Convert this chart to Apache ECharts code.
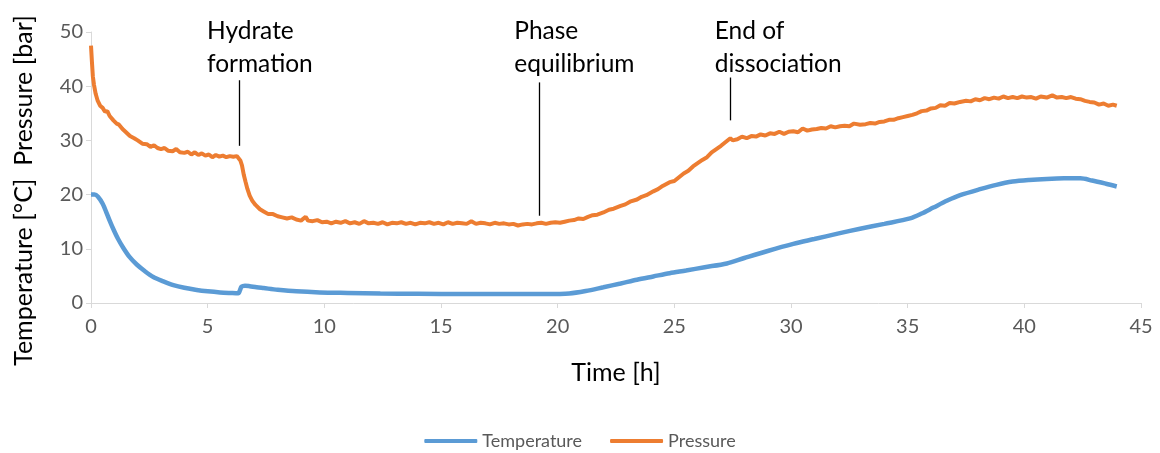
<!DOCTYPE html>
<html>
<head>
<meta charset="utf-8">
<script src="https://cdn.jsdelivr.net/npm/echarts@6/dist/echarts.min.js"></script>
<style>html,body{margin:0;padding:0;background:#fff}#c{width:1160px;height:453px}</style>
</head>
<body>
<div id="c"></div>
<script>
const xTicks = { min: 0, max: 45, interval: 5 };
const yTicks = { min: 0, max: 50, interval: 10 };
const seriesNames = ['Temperature', 'Pressure'];

const temperature = [[0,20.0],[0.15,20.0],[0.3,19.6],[0.5,18.3],[0.67,16.6],[0.8,15.2],[0.96,13.6],[1.15,11.9],[1.38,10.2],[1.65,8.5],[1.96,7.1],[2.3,5.9],[2.67,4.8],[3.1,4.0],[3.53,3.3],[4.0,2.8],[4.53,2.4],[5.0,2.15],[5.53,1.95],[6.0,1.85],[6.31,1.8],[6.38,2.3],[6.45,3.0],[6.6,3.2],[6.8,3.1],[7.1,2.9],[7.4,2.75],[8.0,2.45],[8.8,2.15],[9.8,1.95],[11.0,1.85],[12.4,1.75],[14,1.7],[16,1.65],[18,1.65],[19.5,1.65],[20.5,1.75],[21.2,2.2],[21.96,2.9],[22.7,3.6],[23.4,4.3],[24.1,4.9],[24.8,5.5],[25.5,6.0],[26.3,6.6],[27.25,7.3],[28,8.3],[29,9.6],[30.1,10.9],[31.0,11.8],[32,12.8],[32.96,13.7],[34,14.6],[35.1,15.6],[35.6,16.5],[36.1,17.6],[36.7,18.9],[37.25,19.9],[38.1,21.0],[38.8,21.8],[39.5,22.4],[40.2,22.7],[40.96,22.9],[41.7,23.0],[42.4,23.0],[42.9,22.6],[43.5,22.0],[43.96,21.5]];

const pressure = [[0,47.5],[0.04,44.5],[0.08,41.8],[0.13,40.2],[0.2,38.6],[0.28,37.4],[0.39,36.4],[0.5,36.0],[0.6,35.3],[0.7,35.4],[0.8,34.5],[0.96,33.7],[1.1,33.1],[1.2,32.9],[1.35,32.1],[1.5,31.5],[1.67,30.8],[1.85,30.4],[2.0,30.0],[2.2,29.4],[2.39,29.3],[2.55,28.8],[2.7,29.1],[2.85,28.6],[3.0,28.4],[3.15,28.6],[3.3,28.1],[3.5,28.0],[3.65,28.4],[3.81,27.8],[4.0,27.7],[4.15,27.9],[4.3,27.4],[4.45,27.8],[4.6,27.3],[4.75,27.6],[4.9,27.2],[5.05,27.4],[5.2,26.9],[5.35,27.3],[5.5,27.0],[5.65,27.2],[5.8,26.9],[5.95,27.1],[6.1,27.0],[6.25,27.1],[6.33,27.0],[6.4,26.3],[6.47,25.4],[6.55,23.6],[6.62,22.4],[6.7,21.1],[6.8,19.8],[6.92,18.8],[7.05,18.1],[7.24,17.3],[7.4,16.9],[7.6,16.4],[7.8,16.4],[8.0,16.0],[8.2,15.8],[8.4,15.6],[8.6,15.8],[8.8,15.4],[9.0,15.2],[9.2,15.9],[9.3,15.2],[9.5,15.1],[9.7,15.3],[9.9,14.9],[10.1,15.0],[10.3,14.7],[10.5,15.0],[10.7,14.8],[10.9,15.1],[11.1,14.7],[11.3,14.9],[11.5,14.6],[11.7,15.1],[11.9,14.7],[12.1,14.8],[12.3,14.6],[12.5,14.9],[12.7,14.5],[12.9,14.8],[13.1,14.7],[13.3,14.9],[13.5,14.6],[13.7,14.8],[13.9,14.5],[14.1,14.8],[14.3,14.7],[14.5,14.9],[14.7,14.6],[14.9,14.8],[15.1,14.5],[15.3,14.9],[15.5,14.6],[15.7,14.8],[15.9,14.7],[16.1,14.6],[16.3,15.1],[16.5,14.6],[16.7,14.8],[16.9,14.7],[17.1,14.5],[17.3,14.8],[17.5,14.6],[17.7,14.7],[17.9,14.5],[18.1,14.6],[18.3,14.3],[18.5,14.5],[18.7,14.6],[18.9,14.5],[19.1,14.7],[19.3,14.8],[19.5,14.6],[19.7,14.8],[19.9,14.9],[20.1,14.8],[20.3,15.0],[20.5,15.2],[20.7,15.3],[20.9,15.6],[21.1,15.5],[21.3,15.9],[21.5,16.2],[21.7,16.3],[21.96,16.7],[22.2,17.2],[22.4,17.4],[22.7,17.9],[22.9,18.2],[23.1,18.7],[23.4,19.1],[23.6,19.6],[23.8,19.9],[24.1,20.6],[24.3,21.0],[24.5,21.6],[24.8,22.3],[25.0,22.5],[25.2,23.2],[25.4,23.9],[25.6,24.4],[25.8,25.2],[26.0,25.8],[26.2,26.4],[26.4,26.9],[26.6,27.8],[26.8,28.4],[27.0,29.0],[27.2,29.7],[27.4,30.4],[27.5,30.0],[27.7,30.2],[27.9,30.7],[28.1,30.4],[28.3,30.8],[28.5,30.7],[28.7,31.1],[28.9,30.9],[29.1,31.3],[29.3,31.2],[29.5,31.6],[29.7,31.2],[29.9,31.6],[30.1,31.7],[30.3,31.5],[30.5,32.2],[30.7,31.8],[30.9,32.0],[31.1,32.1],[31.3,32.3],[31.5,32.2],[31.7,32.6],[31.9,32.4],[32.1,32.6],[32.3,32.7],[32.5,32.6],[32.7,33.1],[32.96,32.9],[33.2,33.0],[33.4,33.2],[33.6,33.1],[33.8,33.4],[34.0,33.5],[34.2,33.8],[34.4,33.8],[34.6,34.1],[34.8,34.3],[35.0,34.5],[35.2,34.7],[35.4,35.0],[35.6,35.4],[35.8,35.5],[36.0,35.9],[36.2,36.0],[36.4,36.5],[36.6,36.4],[36.8,36.9],[37.0,36.8],[37.25,37.1],[37.5,37.3],[37.7,37.2],[37.9,37.6],[38.1,37.4],[38.3,37.8],[38.5,37.6],[38.7,37.9],[38.9,37.7],[39.1,38.1],[39.3,37.8],[39.5,38.0],[39.7,37.8],[39.9,38.1],[40.1,37.9],[40.3,38.0],[40.5,37.7],[40.7,38.1],[40.96,37.9],[41.2,38.3],[41.4,37.9],[41.6,38.0],[41.8,37.8],[42.0,38.0],[42.2,37.7],[42.4,37.6],[42.6,37.3],[42.8,37.1],[43.0,37.0],[43.2,36.6],[43.4,36.8],[43.6,36.4],[43.8,36.6],[43.96,36.4]];

// annotations (data coordinates)
const annoText = ['Hydrate\nformation', 'Phase\nequilibrium', 'End of\ndissociation'];
const annoX = [6.34, 19.22, 27.39];
const annoTop = [41.1, 40.7, 41.6];
const annoBottom = [29.0, 16.1, 33.7];
const annoTextX = [4.97, 18.14, 26.73];
const annoTextBottom = [41.0, 41.0, 41.0];

const FONT = 'Lato, "Open Sans", sans-serif';

const chart = echarts.init(document.getElementById('c'), null, { renderer: 'canvas' });
chart.setOption({
  animation: false,
  backgroundColor: '#ffffff',
  grid: { left: 91, right: 19, top: 32, bottom: 150, containLabel: false },
  legend: {
    top: 427,
    left: 'center',
    data: seriesNames.map(n => ({ name: n, icon: 'roundRect' })),
    itemWidth: 53,
    itemHeight: 4,
    itemGap: 28,
    textStyle: { color: '#595959', fontSize: 18, fontFamily: FONT }
  },
  xAxis: {
    type: 'value',
    min: xTicks.min, max: xTicks.max, interval: xTicks.interval,
    name: 'Time [h]',
    nameLocation: 'middle',
    nameGap: 57,
    nameTextStyle: { color: '#000', fontSize: 25, fontFamily: FONT },
    axisLine: { show: true, lineStyle: { color: '#d9d9d9', width: 1 } },
    axisTick: { show: true, length: 5, lineStyle: { color: '#d9d9d9' } },
    axisLabel: { color: '#595959', fontSize: 20, fontFamily: FONT, margin: 14 },
    splitLine: { show: false }
  },
  yAxis: {
    type: 'value',
    min: yTicks.min, max: yTicks.max, interval: yTicks.interval,
    name: 'Temperature [°C]  Pressure [bar]',
    nameLocation: 'middle',
    nameGap: 55,
    nameTextStyle: { color: '#000', fontSize: 25, fontFamily: FONT, padding: [0, 46, 0, 0] },
    axisLine: { show: true, lineStyle: { color: '#d9d9d9', width: 1 } },
    axisTick: { show: true, length: 5, lineStyle: { color: '#d9d9d9' } },
    axisLabel: { color: '#595959', fontSize: 20, fontFamily: FONT, margin: 8 },
    splitLine: { show: false }
  },
  series: [
    {
      name: seriesNames[0],
      type: 'line',
      data: temperature,
      symbol: 'none',
      smooth: 0.3,
      lineStyle: { color: '#5B9BD5', width: 4.5 },
      itemStyle: { color: '#5B9BD5' },
      z: 2
    },
    {
      name: seriesNames[1],
      type: 'line',
      data: pressure,
      symbol: 'none',
      smooth: false,
      lineStyle: { color: '#ED7D31', width: 4 },
      itemStyle: { color: '#ED7D31' },
      z: 3,
      markLine: {
        silent: true,
        symbol: 'none',
        label: { show: false },
        lineStyle: { color: '#000', width: 1.3, type: 'solid' },
        data: annoX.map((x, i) => [{ coord: [x, annoTop[i]] }, { coord: [x, annoBottom[i]] }])
      },
      markPoint: {
        silent: true,
        symbol: 'circle',
        symbolSize: 0,
        itemStyle: { color: 'rgba(0,0,0,0)' },
        label: {
          show: true,
          position: [0, 0],
          align: 'left',
          verticalAlign: 'bottom',
          color: '#000',
          fontSize: 24.5,
          lineHeight: 33,
          fontFamily: FONT,
          formatter: p => p.name
        },
        data: annoText.map((t, i) => ({ name: t, coord: [annoTextX[i], annoTextBottom[i]], value: 0 }))
      }
    }
  ]
});
</script>
</body>
</html>
